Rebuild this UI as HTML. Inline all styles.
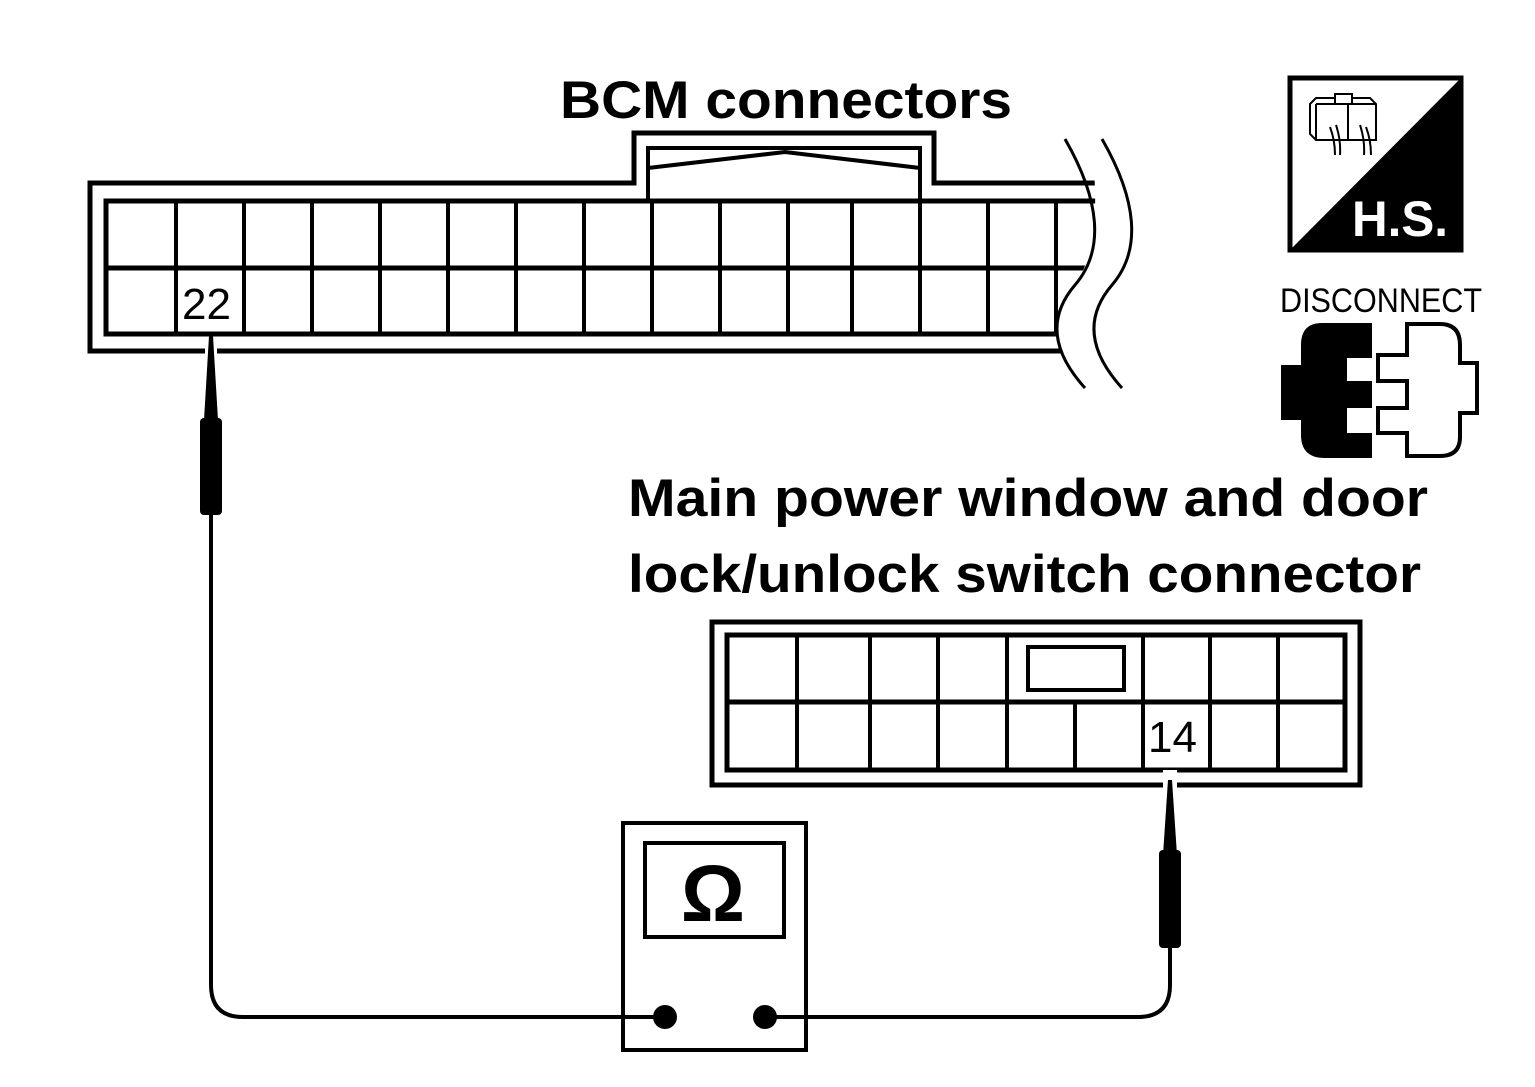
<!DOCTYPE html>
<html><head><meta charset="utf-8"><style>
html,body{margin:0;padding:0;background:#fff;}
svg{display:block;}
text{font-family:"Liberation Sans",Arial,sans-serif;fill:#000;}
</style></head><body>
<svg width="1535" height="1087" viewBox="0 0 1535 1087" xmlns="http://www.w3.org/2000/svg">
<defs>
<clipPath id="bcmclip"><path d="M0 0 H1070 C1100 170 1105 240 1075 285 C1045 320 1055 355 1085 400 H0 Z"/></clipPath>
</defs>
<g stroke="#000" fill="none" stroke-width="5">
<g clip-path="url(#bcmclip)">
<path d="M1100 183 H934 V133 H634 V183 H90 V351 H1100"/>
<rect x="106" y="201" width="1100" height="133" stroke-width="5"/>
<line x1="106" y1="268" x2="1100" y2="268"/>
<g stroke-width="4">
<line x1="176" y1="201" x2="176" y2="334"/><line x1="244" y1="201" x2="244" y2="334"/>
<line x1="312" y1="201" x2="312" y2="334"/><line x1="380" y1="201" x2="380" y2="334"/>
<line x1="448" y1="201" x2="448" y2="334"/><line x1="516" y1="201" x2="516" y2="334"/>
<line x1="584" y1="201" x2="584" y2="334"/><line x1="652" y1="201" x2="652" y2="334"/>
<line x1="720" y1="201" x2="720" y2="334"/><line x1="788" y1="201" x2="788" y2="334"/>
<line x1="852" y1="201" x2="852" y2="334"/><line x1="920" y1="201" x2="920" y2="334"/>
<line x1="988" y1="201" x2="988" y2="334"/><line x1="1056" y1="201" x2="1056" y2="334"/>
</g>
<path d="M648 201 V148 H920 V201" stroke-width="4"/>
<path d="M648 168 L785 152 L920 168" stroke-width="4"/>
</g>
<path d="M1065 139 C1100 200 1105 250 1075 285 C1045 320 1055 355 1085 388" stroke-width="3"/>
<path d="M1102 139 C1137 200 1142 250 1112 285 C1082 320 1092 355 1122 388" stroke-width="3"/>

<rect x="712" y="622" width="648" height="163" stroke-width="5"/>
<rect x="727" y="635" width="618" height="135" stroke-width="5"/>
<line x1="727" y1="702" x2="1345" y2="702"/>
<g stroke-width="4">
<line x1="797" y1="635" x2="797" y2="770"/><line x1="870" y1="635" x2="870" y2="770"/>
<line x1="938" y1="635" x2="938" y2="770"/><line x1="1007" y1="635" x2="1007" y2="770"/>
<line x1="1075" y1="702" x2="1075" y2="770"/><line x1="1143" y1="635" x2="1143" y2="770"/>
<line x1="1210" y1="635" x2="1210" y2="770"/><line x1="1278" y1="635" x2="1278" y2="770"/>
</g>
<rect x="1028" y="647" width="96" height="43" stroke-width="4"/>

<rect x="623" y="823" width="183" height="227" stroke-width="4"/>
<rect x="645" y="843" width="139" height="94" stroke-width="4"/>
<path d="M211 500 V985 Q211 1017 243 1017 H665" stroke-width="4"/>
<path d="M1170 930 V985 Q1170 1017 1138 1017 H765" stroke-width="4"/>
</g>
<rect x="205" y="340" width="12" height="14" fill="#fff"/>
<rect x="1163" y="770" width="14" height="18" fill="#fff"/>
<polygon points="209,336 213,336 218,420 204,420" fill="#000"/>
<rect x="200" y="418" width="22" height="97" rx="4" fill="#000"/>
<polygon points="1168,780 1172,780 1177,855 1163,855" fill="#000"/>
<rect x="1159" y="850" width="22" height="98" rx="4" fill="#000"/>
<circle cx="665" cy="1017" r="12" fill="#000"/>
<circle cx="765" cy="1017" r="12" fill="#000"/>

<text x="713" y="921" font-size="80" font-weight="bold" text-anchor="middle">Ω</text>
<text x="182" y="319" font-size="44">22</text>
<text x="1148" y="752" font-size="44">14</text>

<text x="560" y="118" font-size="53" font-weight="bold" textLength="452" lengthAdjust="spacingAndGlyphs">BCM connectors</text>
<text x="628" y="516" font-size="53" font-weight="bold" textLength="800" lengthAdjust="spacingAndGlyphs">Main power window and door</text>
<text x="628" y="592" font-size="53" font-weight="bold" textLength="793" lengthAdjust="spacingAndGlyphs">lock/unlock switch connector</text>

<rect x="1290" y="78" width="171" height="172" fill="#fff" stroke="#000" stroke-width="5"/>
<polygon points="1461,78 1461,250 1290,250" fill="#000"/>
<text x="1352" y="236" font-size="50" font-weight="bold" style="fill:#fff" textLength="96" lengthAdjust="spacingAndGlyphs">H.S.</text>
<g stroke="#000" stroke-width="2" fill="#fff">
<path d="M1310 104 L1316 98 H1370 L1376 104 V140 H1316 L1310 134 Z"/>
<line x1="1316" y1="104" x2="1376" y2="104"/><line x1="1316" y1="104" x2="1316" y2="140"/>
<line x1="1348" y1="104" x2="1348" y2="140"/>
<rect x="1335" y="94" width="17" height="10"/>
<path d="M1330 127 Q1335 140 1335 155 M1336 125 Q1341 140 1340 155 M1360 125 Q1365 140 1364 155 M1366 127 Q1371 140 1371 155" fill="none"/>
</g>
<text x="1280" y="312" font-size="34" textLength="202" lengthAdjust="spacingAndGlyphs">DISCONNECT</text>
<path d="M1322 323 H1372 V358 H1347 V381 H1372 V408 H1347 V433 H1372 V458 H1325 Q1301 458 1301 435 V420 H1281 V365 H1301 V345 Q1301 323 1322 323 Z" fill="#000"/>
<path d="M1407 324 H1440 Q1460 324 1460 345 V363 H1477 V413 H1460 V437 Q1460 456 1440 456 H1407 V433 H1378 V408 H1407 V381 H1378 V355 H1407 Z" fill="#fff" stroke="#000" stroke-width="4"/>
</svg>
</body></html>
